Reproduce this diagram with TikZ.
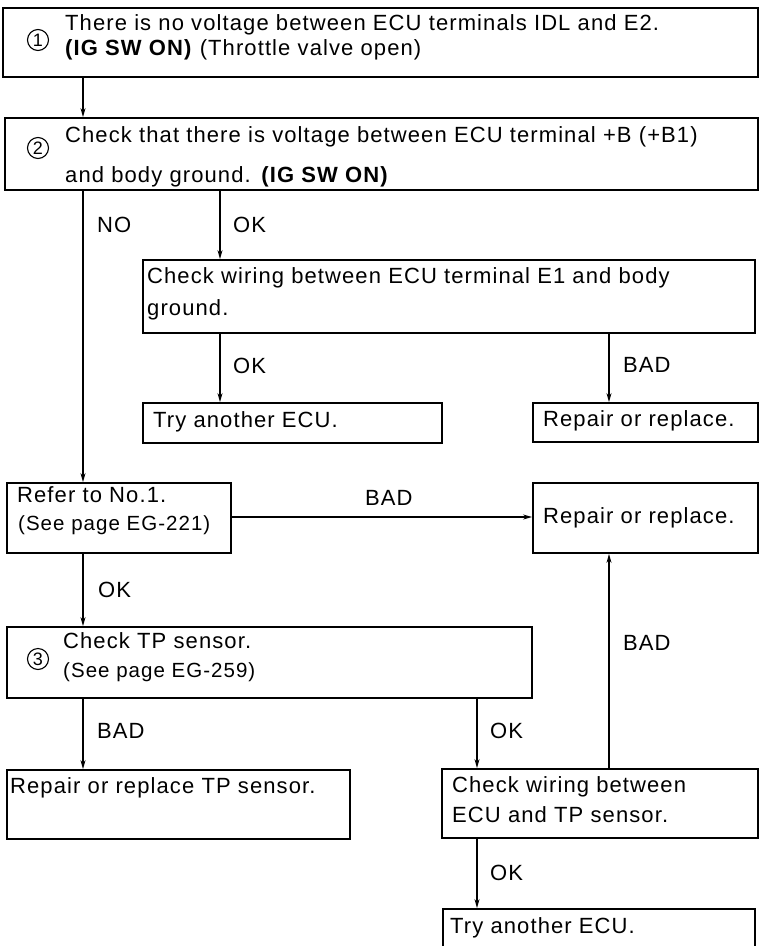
\documentclass[tikz,border=0pt]{standalone}
\usepackage{fontspec}
\setmainfont{Liberation Sans}[LetterSpace=5]
\usetikzlibrary{arrows.meta}
\begin{document}
\begin{tikzpicture}[x=1pt,y=-1pt,
  box/.style={draw,line width=1.8pt,rectangle,inner sep=0pt},
  arr/.style={line width=1.3pt,-{Stealth[length=9pt,width=5pt]}},
  txt/.style={anchor=base west,inner sep=0pt,font=\fontsize{22}{26}\selectfont},
  small/.style={anchor=base west,inner sep=0pt,font=\fontsize{20.5}{24}\selectfont},
  num/.style={draw,circle,line width=1.1pt,inner sep=0pt,minimum size=21pt,font=\fontsize{18}{18}\selectfont}]
\useasboundingbox (0,0) rectangle (759,946);
\clip (0,0) rectangle (759,946);
\fill[white] (0,0) rectangle (759,946);

% boxes
\node[box,minimum width=755pt,minimum height=69pt] (b1) at (380.5,42.5) {};
\node[box,minimum width=753pt,minimum height=72pt] (b2) at (381.5,154) {};
\node[box,minimum width=612pt,minimum height=73pt] (e1) at (449,296.5) {};
\node[box,minimum width=299pt,minimum height=40pt] (try1) at (292.5,423) {};
\node[box,minimum width=225pt,minimum height=39pt] (rep1) at (645.5,422.5) {};
\node[box,minimum width=224pt,minimum height=70pt] (refer) at (119,518) {};
\node[box,minimum width=225pt,minimum height=70pt] (rep2) at (645.5,518) {};
\node[box,minimum width=525pt,minimum height=71pt] (b3) at (269.5,662.5) {};
\node[box,minimum width=343pt,minimum height=69pt] (reptp) at (178.5,804.5) {};
\node[box,minimum width=316pt,minimum height=69pt] (chktp) at (600,803.5) {};
\node[box,minimum width=312pt,minimum height=51pt] (try2) at (599,934.5) {};

% box texts
\node[num] (n1) at (38,40) {1};
\node[txt] (t1a) at (65,30) {There is no voltage between ECU terminals IDL and E2.};
\node[txt] (t1b) at (65,55) {\textbf{(IG SW ON)} (Throttle valve open)};
\node[num] (n2) at (38,148) {2};
\node[txt] (t2a) at (65,142) {Check that there is voltage between ECU terminal +B (+B1)};
\node[txt] (t2b) at (65,182) {and body ground. \textbf{(IG SW ON)}};
\node[txt] (te1a) at (147,283) {Check wiring between ECU terminal E1 and body};
\node[txt] (te1b) at (147,315) {ground.};
\node[txt] (ttry1) at (153,427) {Try another ECU.};
\node[txt] (trep1) at (543,426) {Repair or replace.};
\node[txt] (trefa) at (17,502) {Refer to No.1.};
\node[small] (trefb) at (18,530) {(See page EG-221)};
\node[txt] (trep2) at (543,523) {Repair or replace.};
\node[num] (n3) at (38,659) {3};
\node[txt] (t3a) at (63,648) {Check TP sensor.};
\node[small] (t3b) at (63,677) {(See page EG-259)};
\node[txt] (treptp) at (10,793) {Repair or replace TP sensor.};
\node[txt] (tchka) at (452,792) {Check wiring between};
\node[txt] (tchkb) at (452,822) {ECU and TP sensor.};
\node[txt] (ttry2) at (450,933) {Try another ECU.};

% connector columns
\coordinate (xa) at (83,0);
\coordinate (xb) at (220,0);
\coordinate (xc) at (609,0);
\coordinate (xd) at (477,0);
\coordinate (ya) at (0,517);

% connectors
\draw[arr] (b1.south -| xa) -- (b2.north -| xa);
\draw[arr] (b2.south -| xa) -- (refer.north -| xa);
\draw[arr] (b2.south -| xb) -- (e1.north -| xb);
\draw[arr] (e1.south -| xb) -- (try1.north -| xb);
\draw[arr] (e1.south -| xc) -- (rep1.north -| xc);
\draw[arr] (refer.east |- ya) -- (rep2.west |- ya);
\draw[arr] (refer.south -| xa) -- (b3.north -| xa);
\draw[arr] (b3.south -| xa) -- (reptp.north -| xa);
\draw[arr] (b3.south -| xd) -- (chktp.north -| xd);
\draw[arr] (chktp.north -| xc) -- (rep2.south -| xc);
\draw[arr] (chktp.south -| xd) -- (try2.north -| xd);

% connector labels
\node[txt] (lno) at (97,232) {NO};
\node[txt] (lok1) at (233,232) {OK};
\node[txt] (lok2) at (233,373) {OK};
\node[txt] (lbad1) at (623,372) {BAD};
\node[txt] (lbad2) at (365,505) {BAD};
\node[txt] (lok3) at (98,597) {OK};
\node[txt] (lbad3) at (97,738) {BAD};
\node[txt] (lok4) at (490,738) {OK};
\node[txt] (lbad4) at (623,650) {BAD};
\node[txt] (lok5) at (490,880) {OK};
\end{tikzpicture}
\end{document}
